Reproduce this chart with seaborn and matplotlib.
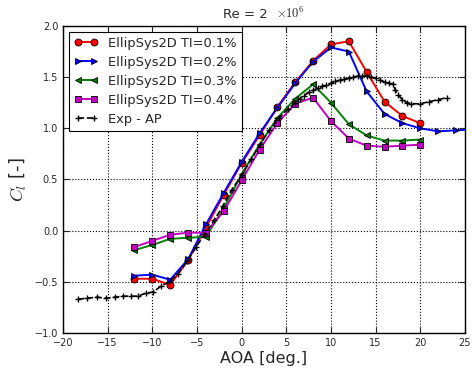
import matplotlib
matplotlib.use("Agg")
import matplotlib.pyplot as plt
import seaborn as sns

# simulated lift curves (EllipSys2D)
aoa_sim = [-12, -10, -8, -6, -4, -2, 0, 2, 4, 6, 8, 10, 12, 14, 16, 18, 20]
cl_ti01 = [-0.47, -0.47, -0.53, -0.29, 0.03, 0.35, 0.66, 0.93, 1.21, 1.45, 1.66, 1.82, 1.85, 1.55, 1.26, 1.12, 1.05]
aoa_ti02 = [-12, -10, -8, -6, -4, -2, 0, 2, 4, 6, 8, 10, 12, 14, 16, 18, 20, 22, 24, 26]
cl_ti02 = [-0.44, -0.43, -0.48, -0.28, 0.06, 0.37, 0.67, 0.95, 1.20, 1.44, 1.65, 1.79, 1.75, 1.36, 1.14, 1.05, 1.00, 0.97, 0.98, 0.99]
cl_ti03 = [-0.19, -0.14, -0.08, -0.07, -0.06, 0.22, 0.55, 0.84, 1.10, 1.29, 1.43, 1.25, 1.04, 0.93, 0.88, 0.88, 0.89]
cl_ti04 = [-0.16, -0.10, -0.04, -0.02, -0.02, 0.19, 0.49, 0.79, 1.05, 1.24, 1.30, 1.07, 0.90, 0.83, 0.82, 0.83, 0.84]

# experiment
aoa_exp = [-18.3, -17.3, -16.2, -15.2, -14.2, -13.3, -12.4, -11.6, -10.7, -9.9,
           -9.0, -8.1, -7.1, -6.1, -5.1, -4.1, -3.1, -2.1, -1.1, 0.0,
           1.1, 2.1, 3.1, 4.2, 5.2, 6.0, 6.5, 7.0, 7.5, 8.0,
           8.5, 9.0, 9.5, 10.0, 10.5, 11.0, 11.5, 12.0, 12.5, 13.0,
           13.5, 14.0, 14.5, 15.0, 15.5, 16.0, 16.5, 17.0, 17.2, 17.5,
           18.0, 18.5, 19.0, 20.0, 21.0, 22.0, 23.0]
cl_exp = [-0.67, -0.66, -0.65, -0.66, -0.65, -0.64, -0.64, -0.64, -0.61, -0.60,
          -0.54, -0.50, -0.42, -0.30, -0.16, -0.03, 0.10, 0.24, 0.40, 0.54,
          0.70, 0.85, 0.98, 1.10, 1.19, 1.25, 1.29, 1.32, 1.35, 1.37,
          1.39, 1.41, 1.42, 1.44, 1.46, 1.47, 1.48, 1.49, 1.50, 1.51,
          1.51, 1.51, 1.50, 1.49, 1.47, 1.45, 1.44, 1.43, 1.37, 1.33,
          1.28, 1.25, 1.24, 1.24, 1.26, 1.28, 1.30]

sns.set_style("ticks", {"xtick.direction": "in", "ytick.direction": "in",
                        "axes.grid": True, "grid.linestyle": ":", "grid.color": "k",
                        "axes.edgecolor": "k"})
plt.rcParams['font.family'] = ['DejaVu Sans']
plt.rcParams['mathtext.fontset'] = 'cm'

fig = plt.figure(figsize=(4.72, 3.76), dpi=100)
ax = fig.add_axes([0.1335, 0.1144, 0.8515, 0.8166])

series = [
    (aoa_sim, cl_ti01, "EllipSys2D TI=0.1%", "r", "o"),
    (aoa_ti02, cl_ti02, "EllipSys2D TI=0.2%", "b", ">"),
    (aoa_sim, cl_ti03, "EllipSys2D TI=0.3%", "g", "<"),
    (aoa_sim, cl_ti04, "EllipSys2D TI=0.4%", "m", "s"),
]
for x, y, lab, c, m in series:
    sns.lineplot(x=x, y=y, sort=False, color=c, marker=m, markersize=5,
                 markeredgecolor="k", markeredgewidth=0.6, lw=1.4, label=lab, ax=ax)

sns.lineplot(x=aoa_exp, y=cl_exp, sort=False, color="k", marker="+", markersize=5,
             markeredgecolor="k", markeredgewidth=1.0, linestyle="--", lw=1.2,
             label="Exp - AP", ax=ax)

ax.set_xlim(-20, 25)
ax.set_ylim(-1.0, 2.0)
ax.set_xticks(range(-20, 26, 5))
ax.set_yticks([-1.0, -0.5, 0.0, 0.5, 1.0, 1.5, 2.0])
ax.tick_params(labelsize=7, top=True, right=True, direction="in", length=4, width=0.8)
for s in ax.spines.values():
    s.set_linewidth(1.0)
ax.set_xlabel("AOA [deg.]", fontsize=11.5, labelpad=2)
ax.set_ylabel("$C_l$ [-]", fontsize=13, labelpad=4)

ax.text(0.51, 1.015, "Re = 2", transform=ax.transAxes, ha="right", va="bottom", fontsize=9.5)
ax.text(0.53, 1.015, r"$\times10^{6}$", transform=ax.transAxes, ha="left", va="bottom", fontsize=9)

handles = [ln for ln in ax.get_lines() if not ln.get_label().startswith("_")]
labels = [ln.get_label() for ln in handles]
leg = ax.legend(handles, labels, loc="upper left", fontsize=9.4, numpoints=2, fancybox=False,
                framealpha=1, edgecolor="k", borderaxespad=0.45, handlelength=1.8,
                labelspacing=0.45, borderpad=0.4)
leg.get_frame().set_linewidth(0.8)

fig.savefig("out.png", dpi=100)
